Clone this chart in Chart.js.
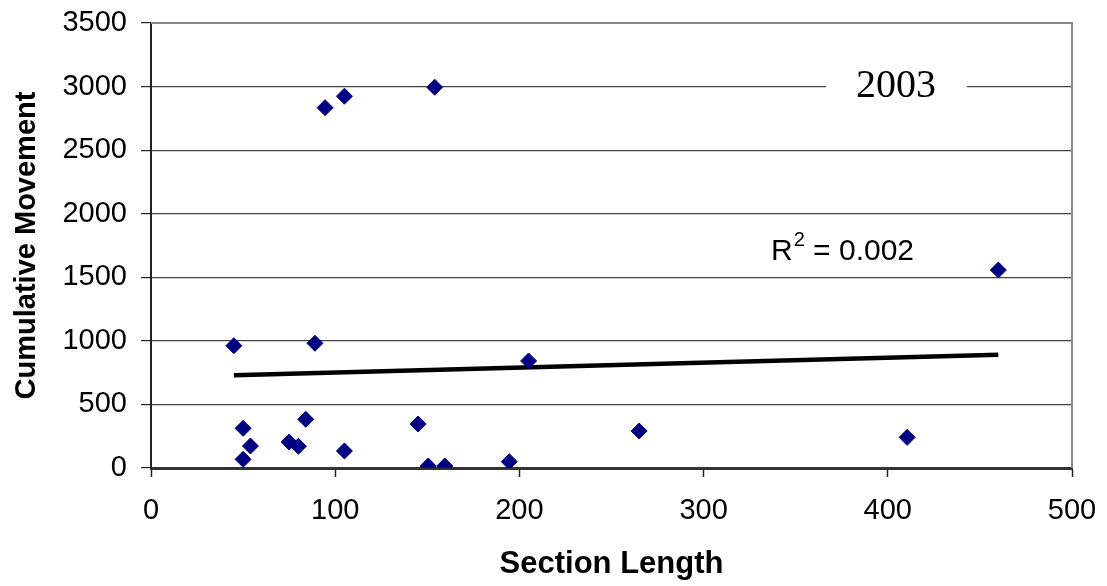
<!DOCTYPE html>
<html>
<head>
<meta charset="utf-8">
<script src="https://cdn.jsdelivr.net/npm/chart.js@4"></script>
<style>
  html, body { margin: 0; padding: 0; background: #fff; }
  #wrap { width: 1107px; height: 586px; }
</style>
</head>
<body>
<div id="wrap"><canvas id="myChart" width="1107" height="586"></canvas></div>
<script>
// section length vs cumulative movement, 2003
var sectionLength = [45, 50, 50, 54, 75, 80, 84, 89, 94.5, 105, 105, 145, 150.5, 159.5, 154, 194.5, 205, 265, 410.5, 460];
var movement = [962, 312, 68, 173, 204, 171, 383, 981, 2834, 2924, 134, 346, 16, 16, 2995, 50, 842, 291, 241, 1557];

// linear trendline ends
var trendX = [45, 460];
var trendY = [730, 890];

var xTicks = [0, 100, 200, 300, 400, 500];
var yTicks = [0, 500, 1000, 1500, 2000, 2500, 3000, 3500];

var points = sectionLength.map(function(x, i){ return {x: x, y: movement[i]}; });
var trend = trendX.map(function(x, i){ return {x: x, y: trendY[i]}; });

var extras = {
  id: 'extras',
  beforeDatasetsDraw: function(chart){
    var c = chart.ctx, a = chart.chartArea;
    c.save();
    // top and right frame
    c.strokeStyle = '#888';
    c.lineWidth = 2;
    c.beginPath();
    c.moveTo(a.left, a.top);
    c.lineTo(a.right, a.top);
    c.lineTo(a.right, a.bottom);
    c.stroke();
    // "2003" label sitting on the 3000 gridline
    c.fillStyle = '#fff';
    c.fillRect(826, 64, 141, 40);
    c.fillStyle = '#000';
    c.font = '40px "Liberation Serif", "Times New Roman", serif';
    c.textAlign = 'center';
    c.textBaseline = 'alphabetic';
    c.fillText('2003', 896, 97);
    // R^2 label
    c.textAlign = 'left';
    c.font = '30px "Liberation Sans", Arial, sans-serif';
    c.fillText('R', 771, 260);
    var rw = c.measureText('R').width;
    c.font = '20px "Liberation Sans", Arial, sans-serif';
    c.fillText('2', 771 + rw + 1, 246);
    var sw = c.measureText('2').width;
    c.font = '30px "Liberation Sans", Arial, sans-serif';
    c.fillText(' = 0.002', 771 + rw + sw + 1, 260);
    c.restore();
  }
};

var plain = function(v){ return String(v); };

var ctx = document.getElementById('myChart');
new Chart(ctx, {
  type: 'scatter',
  data: {
    datasets: [{
      label: 'Movement',
      data: points,
      pointStyle: 'rectRot',
      pointRadius: 8,
      pointHoverRadius: 8,
      backgroundColor: '#000080',
      borderColor: '#000080',
      borderWidth: 1,
      order: 1
    }, {
      label: 'Trend',
      data: trend,
      type: 'line',
      showLine: true,
      borderColor: '#000',
      borderWidth: 4.5,
      pointRadius: 0,
      fill: false,
      order: 2
    }]
  },
  options: {
    responsive: false,
    animation: false,
    layout: { padding: { top: 23, right: 35, left: 0, bottom: 0 } },
    plugins: {
      legend: { display: false },
      tooltip: { enabled: false }
    },
    scales: {
      x: {
        type: 'linear',
        min: 0,
        max: 500,
        afterFit: function(s){ s.height = 118; s.paddingLeft = 0; s.paddingRight = 0; },
        afterBuildTicks: function(s){ s.ticks = xTicks.map(function(v){ return {value: v}; }); },
        grid: { drawOnChartArea: false, drawTicks: true, tickLength: 9, color: '#222', tickWidth: 1.5 },
        border: { color: '#333', width: 3 },
        ticks: {
          padding: 17,
          color: '#000',
          maxRotation: 0,
          callback: plain,
          font: { family: '"Liberation Sans", Arial, sans-serif', size: 29 }
        },
        title: {
          display: true,
          text: 'Section Length',
          color: '#000',
          padding: 3,
          font: { family: '"Liberation Sans", Arial, sans-serif', size: 31, weight: 'bold' }
        }
      },
      y: {
        type: 'linear',
        min: 0,
        max: 3500,
        afterFit: function(s){ s.width = 151; s.paddingTop = 0; s.paddingBottom = 0; },
        afterBuildTicks: function(s){ s.ticks = yTicks.map(function(v){ return {value: v}; }); },
        grid: { drawOnChartArea: true, drawTicks: true, tickLength: 10, color: '#444', lineWidth: 1.2, tickColor: '#222' },
        border: { color: '#222', width: 2 },
        ticks: {
          padding: 14,
          color: '#000',
          callback: plain,
          font: { family: '"Liberation Sans", Arial, sans-serif', size: 29 }
        },
        title: {
          display: true,
          text: 'Cumulative Movement',
          color: '#000',
          padding: 10,
          font: { family: '"Liberation Sans", Arial, sans-serif', size: 29, weight: 'bold' }
        }
      }
    }
  },
  plugins: [extras]
});
</script>
</body>
</html>
